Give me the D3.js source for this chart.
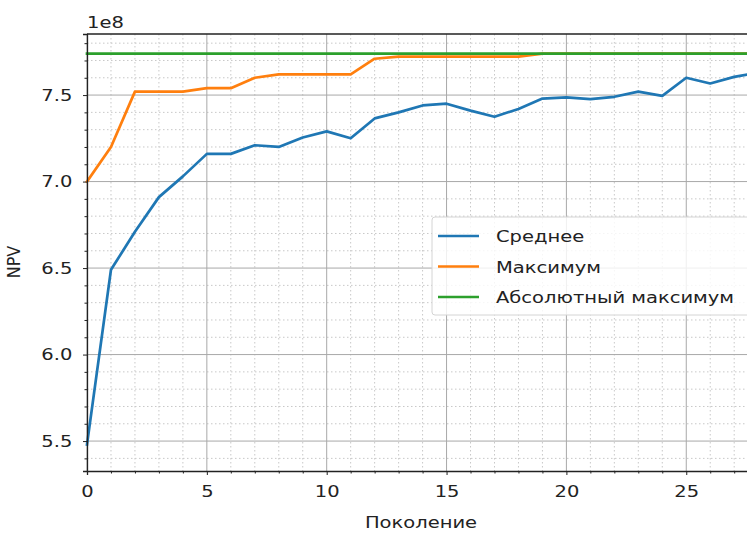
<!DOCTYPE html>
<html>
<head>
<meta charset="utf-8">
<script src="https://cdnjs.cloudflare.com/ajax/libs/d3/7.8.5/d3.min.js"></script>
<style>
  body { margin: 0; background: #fff; }
  svg { display: block; font-family: "DejaVu Sans", sans-serif; }
</style>
</head>
<body>
<div id="chart"></div>
<script>
// generations and NPV series (units of 1e8)
const generations = d3.range(0, 29);
const meanNpv = [5.48, 6.49, 6.71, 6.91, 7.03, 7.16, 7.16, 7.21, 7.20, 7.255, 7.29, 7.25,
  7.365, 7.40, 7.44, 7.45, 7.41, 7.375, 7.42, 7.48, 7.487, 7.477, 7.49, 7.52, 7.495,
  7.60, 7.567, 7.605, 7.63];
const maxNpv = [7.00, 7.20, 7.52, 7.52, 7.52, 7.54, 7.54, 7.60, 7.62, 7.62, 7.62, 7.62,
  7.71, 7.722, 7.722, 7.722, 7.722, 7.722, 7.722, 7.74, 7.74, 7.74, 7.74, 7.74, 7.74,
  7.74, 7.74, 7.74, 7.74];
const absMaxNpv = generations.map(() => 7.74);

const seriesNames = ['Среднее', 'Максимум', 'Абсолютный максимум'];
const seriesColors = ['#1f77b4', '#ff7f0e', '#2ca02c'];
const xTicks = [0, 5, 10, 15, 20, 25];
const yTicks = [5.5, 6.0, 6.5, 7.0, 7.5];

const width = 747, height = 533;
const margin = { left: 87, top: 34, bottom: 62 };
const pxPerGen = 23.97;
const xMax = 30;
const stretch = 1.22; // the reference text is drawn wider than normal

const svg = d3.select('#chart').append('svg')
  .attr('width', width)
  .attr('height', height);

const x = d3.scaleLinear().domain([0, xMax]).range([margin.left, margin.left + pxPerGen * xMax]);
const y = d3.scaleLinear().domain([5.327, 7.853]).range([height - margin.bottom, margin.top]);

const plotRight = x(xMax);
const plotBottom = y.range()[0];

// grid: minor dotted, then major solid
const minorX = d3.range(0, xMax + 1).filter(v => v % 5 !== 0);
const minorY = d3.range(54, 79).map(v => v / 10).filter(v => Math.round(v * 10) % 5 !== 0);

const grid = svg.append('g');
grid.selectAll('.mx').data(minorX).join('line')
  .attr('x1', d => x(d)).attr('x2', d => x(d))
  .attr('y1', margin.top).attr('y2', plotBottom)
  .attr('stroke', '#c8c8c8').attr('stroke-width', 1).attr('stroke-dasharray', '1.5,2.5');
grid.selectAll('.my').data(minorY).join('line')
  .attr('x1', margin.left).attr('x2', plotRight)
  .attr('y1', d => y(d)).attr('y2', d => y(d))
  .attr('stroke', '#c8c8c8').attr('stroke-width', 1).attr('stroke-dasharray', '1.5,2.5');
grid.selectAll('.Mx').data(d3.range(0, xMax + 1, 5)).join('line')
  .attr('x1', d => x(d)).attr('x2', d => x(d))
  .attr('y1', margin.top).attr('y2', plotBottom)
  .attr('stroke', '#a8a8a8').attr('stroke-width', 1);
grid.selectAll('.My').data(yTicks).join('line')
  .attr('x1', margin.left).attr('x2', plotRight)
  .attr('y1', d => y(d)).attr('y2', d => y(d))
  .attr('stroke', '#a8a8a8').attr('stroke-width', 1);

// series lines
const line = d3.line().x((d, i) => x(generations[i])).y(d => y(d));
const series = [meanNpv, maxNpv, absMaxNpv];
svg.append('g').selectAll('path').data(series).join('path')
  .attr('d', d => line(d))
  .attr('fill', 'none')
  .attr('stroke', (d, i) => seriesColors[i])
  .attr('stroke-width', 2.7)
  .attr('stroke-linejoin', 'round')
  .attr('stroke-linecap', 'square');

// axes
const xAxis = svg.append('g').attr('transform', `translate(0,${plotBottom})`)
  .call(d3.axisBottom(x).tickValues(xTicks).tickSize(4).tickPadding(11).tickFormat(d3.format('d')));
svg.append('g').attr('transform', `translate(0,${plotBottom})`)
  .call(d3.axisBottom(x).tickValues(minorX).tickSize(2.5).tickFormat(''))
  .call(g => g.select('.domain').remove());

const yAxis = svg.append('g').attr('transform', `translate(${margin.left},0)`)
  .call(d3.axisLeft(y).tickValues(yTicks).tickSize(4).tickPadding(8).tickFormat(d3.format('.1f')));
svg.append('g').attr('transform', `translate(${margin.left},0)`)
  .call(d3.axisLeft(y).tickValues(minorY).tickSize(2.5).tickFormat(''))
  .call(g => g.select('.domain').remove());

[xAxis, yAxis].forEach(g => {
  g.select('.domain').attr('stroke', '#222').attr('stroke-width', 1.3);
  g.selectAll('.tick text')
    .attr('font-size', 16)
    .attr('font-family', '"DejaVu Sans", sans-serif')
    .attr('fill', '#222')
    .attr('transform', `scale(${stretch},1)`);
});
svg.selectAll('.tick line').attr('stroke', '#222');

// top spine
svg.append('line')
  .attr('x1', margin.left).attr('x2', plotRight)
  .attr('y1', margin.top).attr('y2', margin.top)
  .attr('stroke', '#222').attr('stroke-width', 1.3);

// stretched text helper
function label(parent, px, py, str, anchor = 'start') {
  return parent.append('text')
    .attr('transform', `translate(${px},${py}) scale(${stretch},1)`)
    .attr('text-anchor', anchor)
    .attr('font-size', 16).attr('fill', '#222')
    .text(str);
}

// offset text and axis labels
label(svg, margin.left, 28, '1e8');
label(svg, 421, 528, 'Поколение', 'middle');
svg.append('text').attr('transform', 'translate(20,262) rotate(-90) scale(1,1.1)')
  .attr('text-anchor', 'middle').attr('font-size', 16).attr('fill', '#222').text('NPV');

// legend
const legend = svg.append('g').attr('transform', 'translate(432,217)');
legend.append('rect')
  .attr('width', 330).attr('height', 98).attr('rx', 3)
  .attr('fill', '#fff').attr('fill-opacity', 0.82)
  .attr('stroke', '#d4d4d4');
seriesNames.forEach((name, i) => {
  const row = legend.append('g').attr('transform', `translate(0,${19 + i * 30.5})`);
  row.append('line').attr('x1', 6).attr('x2', 47)
    .attr('stroke', seriesColors[i]).attr('stroke-width', 2.7);
  label(row, 64, 6, name);
});
</script>
</body>
</html>
